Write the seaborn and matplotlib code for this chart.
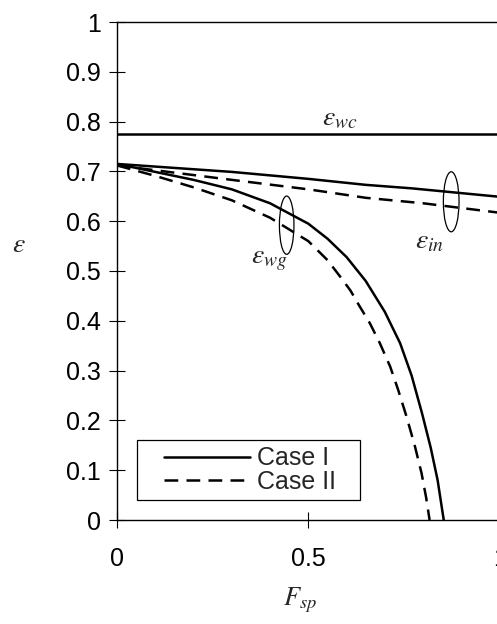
import matplotlib
matplotlib.use("Agg")
import matplotlib.pyplot as plt
from matplotlib.patches import Ellipse, Rectangle
from matplotlib.lines import Line2D
import seaborn as sns

# ---- data ----
x_wc = [0.0, 1.0]
eps_wc = [0.775, 0.775]

x_in_1 = [0.0, 0.3, 0.5, 0.65, 0.77, 1.0]
eps_in_1 = [0.715, 0.699, 0.685, 0.673, 0.666, 0.649]

x_in_2 = [0.0, 0.3, 0.5, 0.65, 0.8, 1.0]
eps_in_2 = [0.712, 0.683, 0.664, 0.647, 0.636, 0.617]

x_wg_1 = [0.0, 0.1, 0.2, 0.3, 0.4, 0.5, 0.55, 0.6, 0.65, 0.7, 0.74, 0.77, 0.797, 0.82, 0.838, 0.854]
eps_wg_1 = [0.715, 0.699, 0.683, 0.664, 0.636, 0.595, 0.565, 0.528, 0.48, 0.418, 0.355, 0.29, 0.215, 0.145, 0.08, 0.0]

x_wg_2 = [0.0, 0.1, 0.2, 0.3, 0.4, 0.5, 0.55, 0.583, 0.61, 0.635, 0.661, 0.687, 0.714, 0.735,
          0.757, 0.779, 0.796, 0.808, 0.817]
eps_wg_2 = [0.712, 0.691, 0.668, 0.642, 0.607, 0.560, 0.522, 0.489, 0.461, 0.428, 0.395, 0.355,
            0.308, 0.261, 0.207, 0.147, 0.094, 0.045, 0.0]

x_ticks = [0, 0.5, 1]
x_tick_labels = ["0", "0.5", "1"]
y_ticks = [0, 0.1, 0.2, 0.3, 0.4, 0.5, 0.6, 0.7, 0.8, 0.9, 1.0]
y_tick_labels = ["0", "0.1", "0.2", "0.3", "0.4", "0.5", "0.6", "0.7", "0.8", "0.9", "1"]
legend_labels = ["Case I", "Case II"]

# ---- style ----
sns.set_theme(style="ticks")
plt.rcParams["font.family"] = ["Liberation Sans", "DejaVu Sans"]
plt.rcParams["mathtext.fontset"] = "stix"

fig = plt.figure(figsize=(4.97, 6.24), dpi=100)
W, H = 497, 624
ax = fig.add_axes([117 / W, 104 / H, (499.6 - 117) / W, 498 / H])

lw = 1.8
dash = (5.5, 3.3)
sns.lineplot(x=x_wc, y=eps_wc, ax=ax, color="black", linewidth=lw, legend=False)
sns.lineplot(x=x_in_1, y=eps_in_1, ax=ax, color="black", linewidth=lw, legend=False)
sns.lineplot(x=x_wg_1, y=eps_wg_1, ax=ax, color="black", linewidth=lw, legend=False)
sns.lineplot(x=x_in_2, y=eps_in_2, ax=ax, color="black", linewidth=lw, legend=False)
sns.lineplot(x=x_wg_2, y=eps_wg_2, ax=ax, color="black", linewidth=lw, legend=False)
for ln in ax.get_lines()[-2:]:
    ln.set_linestyle((0, dash))
for ln in ax.get_lines():
    ln.set_solid_joinstyle("round")
    ln.set_dash_joinstyle("round")

ax.set_xlim(0, 1)
ax.set_ylim(0, 1)
ax.set_xticks(x_ticks)
ax.set_xticklabels(x_tick_labels)
ax.set_yticks(y_ticks)
ax.set_yticklabels(y_tick_labels)
ax.tick_params(axis="both", direction="inout", length=11, width=0.8, colors="black",
               labelsize=18)
ax.tick_params(axis="y", pad=6)
ax.tick_params(axis="x", pad=14)
for s in ax.spines.values():
    s.set_visible(True)
    s.set_linewidth(1.0)
    s.set_color("black")
ax.set_xlabel("")
ax.set_ylabel("")

# ellipses
ax.add_patch(Ellipse((0.4435, 0.592), 0.038, 0.117, fill=False, edgecolor="black", linewidth=0.9))
ax.add_patch(Ellipse((0.8735, 0.639), 0.041, 0.1205, fill=False, edgecolor="black", linewidth=0.9))

# annotations
ax.text(0.583, 0.807, r"$\varepsilon_{wc}$", fontsize=20, ha="center", va="center")
ax.text(0.818, 0.560, r"$\varepsilon_{in}$", fontsize=20, ha="center", va="center")
ax.text(0.397, 0.522, r"$\varepsilon_{wg}$", fontsize=20, ha="center", va="center")

fig.text(19 / W, 1 - 245 / H, r"$\varepsilon$", fontsize=20, ha="center", va="center")
fig.text(300 / W, 1 - 600 / H, r"$F_{sp}$", fontsize=19, ha="center", va="center")

# legend: frame drawn as rectangle, entries via legend
ax.add_patch(Rectangle((0.0531, 0.0402), 0.582, 0.1205, transform=ax.transAxes,
                       fill=True, facecolor="white", edgecolor="black", linewidth=0.9, zorder=4))
handles = [Line2D([], [], color="black", linewidth=lw),
           Line2D([], [], color="black", linewidth=lw, linestyle=(0, dash))]
leg = ax.legend(handles, legend_labels, loc="center", bbox_to_anchor=(0.347, 0.100),
                borderaxespad=0, borderpad=0, fontsize=18, handlelength=3.47,
                handletextpad=0.27, labelspacing=-0.02, frameon=False)
leg.set_zorder(5)

fig.savefig("out.png", dpi=100)
